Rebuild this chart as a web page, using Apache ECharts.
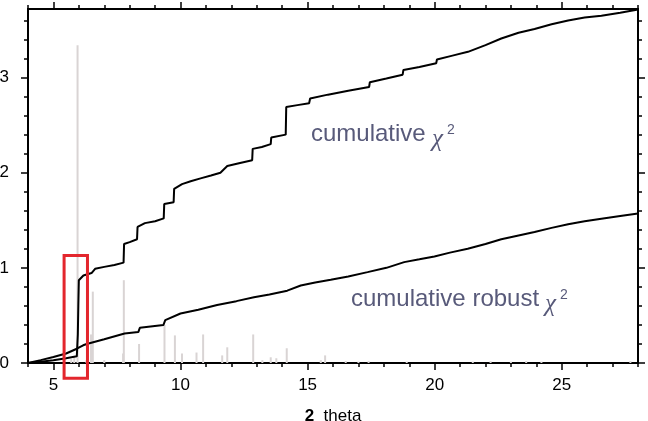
<!DOCTYPE html>
<html>
<head>
<meta charset="utf-8">
<script src="https://cdn.jsdelivr.net/npm/echarts@6/dist/echarts.min.js"></script>
<style>
html, body { margin: 0; padding: 0; background: #fff; }
#echarts { width: 648px; height: 421px; }
</style>
</head>
<body>
<div id="echarts"></div>
<script>
// axis ranges and ticks
const X_MIN = 4, X_MAX = 28;
const Y_MIN = 0, Y_MAX = 3.72;
const xLabels = [5, 10, 15, 20, 25];
const xMinor = [4, 6, 7, 8, 9, 11, 12, 13, 14, 16, 17, 18, 19, 21, 22, 23, 24, 26, 27, 28];
const yLabels = [0, 1, 2, 3];
const yMinor = [0.2, 0.4, 0.6, 0.8, 1.2, 1.4, 1.6, 1.8, 2.2, 2.4, 2.6, 2.8, 3.2, 3.4, 3.6];

// cumulative chi^2 (step-like curve)
const chi2Curve = [
  [4, 0], [4.5, 0.012], [5, 0.03], [5.5, 0.05], [5.92, 0.07], [5.96, 0.3], [5.98, 0.6], [6.0, 0.87],
  [6.18, 0.92], [6.5, 0.945], [6.64, 0.99], [7.0, 1.01], [7.4, 1.03], [7.76, 1.055], [7.78, 1.25],
  [8.0, 1.27], [8.29, 1.3], [8.31, 1.43], [8.6, 1.47], [9.0, 1.49], [9.34, 1.52], [9.36, 1.67],
  [9.73, 1.69], [9.75, 1.83], [10.06, 1.88], [10.4, 1.91], [10.79, 1.94], [11.2, 1.97], [11.57, 2.0],
  [11.84, 2.07], [12.3, 2.1], [12.82, 2.13], [12.84, 2.25], [13.2, 2.27], [13.55, 2.3], [13.57, 2.37],
  [14.14, 2.4], [14.16, 2.69], [14.6, 2.71], [15.06, 2.73], [15.1, 2.78], [15.8, 2.82], [16.6, 2.86],
  [17.42, 2.9], [17.45, 2.95], [18.1, 2.99], [18.74, 3.03], [18.77, 3.08], [19.4, 3.11], [20.06, 3.15],
  [20.09, 3.19], [20.7, 3.23], [21.31, 3.27], [22.0, 3.34], [22.62, 3.41], [23.3, 3.47], [23.93, 3.51],
  [24.6, 3.56], [25.25, 3.6], [25.9, 3.63], [26.56, 3.65], [27.3, 3.68], [28, 3.715]
];

// cumulative robust chi^2
const robustCurve = [
  [4, 0], [4.5, 0.03], [5, 0.063], [5.5, 0.1], [5.92, 0.15], [6.17, 0.186], [6.31, 0.2], [7.0, 0.25],
  [7.8, 0.31], [8.34, 0.325], [8.4, 0.37], [9.33, 0.4], [9.4, 0.45], [10.0, 0.52], [10.7, 0.56],
  [11.44, 0.61], [12.2, 0.65], [12.89, 0.69], [13.5, 0.72], [14.2, 0.76], [14.73, 0.815], [15.3, 0.845],
  [15.91, 0.875], [16.6, 0.91], [17.36, 0.955], [18.1, 1.0], [18.8, 1.06], [19.4, 1.09], [19.99, 1.12],
  [20.6, 1.16], [21.3, 1.2], [22.0, 1.25], [22.62, 1.3], [23.3, 1.34], [23.93, 1.376], [24.6, 1.42],
  [25.25, 1.457], [25.9, 1.49], [26.56, 1.517], [27.3, 1.545], [28, 1.57]
];

// grey diffraction peaks
const peakPos = [5.7, 5.82, 5.95, 6.3, 6.48, 6.55, 7.0, 7.74, 7.77, 8.37, 9.37, 9.78, 10.06, 10.63, 10.89,
  11.64, 11.84, 12.86, 13.22, 13.55, 13.77, 14.18, 15.52, 15.69, 16.5, 17.0, 17.4, 18.9, 21.5, 22.2,
  23.0, 23.6, 24.2, 27.7];
const peakHeight = [0.04, 0.06, 3.34, 0.03, 0.3, 0.75, 0.03, 0.1, 0.87, 0.2, 0.4, 0.29, 0.1, 0.11, 0.3,
  0.08, 0.165, 0.3, 0.03, 0.06, 0.05, 0.155, 0.03, 0.08, 0.02, 0.015, 0.02, 0.015, 0.015, 0.02,
  0.015, 0.02, 0.015, 0.02];

// highlight box: [x0, x1, y0, y1]
const redBox = [5.42, 6.34, -0.16, 1.13];

const chartDom = document.getElementById("echarts");
const myChart = echarts.init(chartDom);

function xAxisOf(pos, ticks, len, withLabels) {
  const axis = {
    type: "value",
    position: pos,
    min: X_MIN,
    max: X_MAX,
    axisLine: { show: true, onZero: false, lineStyle: { color: "#000", width: 2 } },
    axisTick: { show: true, inside: false, length: len, customValues: ticks, lineStyle: { color: "#000", width: 1.5 } },
    axisLabel: { show: false },
    splitLine: { show: false },
  };
  if (withLabels) {
    axis.axisLabel = {
      show: true, customValues: xLabels, margin: 14,
      color: "#000", fontSize: 17, fontFamily: "Liberation Sans",
    };
    axis.name = "{b|2}  theta";
    axis.nameLocation = "middle";
    axis.nameGap = 45;
    axis.nameTextStyle = {
      color: "#000", fontSize: 17, fontFamily: "Liberation Sans",
      rich: { b: { fontSize: 17, fontWeight: "bold", fontFamily: "Liberation Sans" } },
    };
  }
  return axis;
}

function yAxisOf(pos, ticks, len, withLabels) {
  const axis = {
    type: "value",
    position: pos,
    min: Y_MIN,
    max: Y_MAX,
    axisLine: { show: true, onZero: false, lineStyle: { color: "#000", width: 2 } },
    axisTick: { show: true, inside: false, length: len, customValues: ticks, lineStyle: { color: "#000", width: 1.5 } },
    axisLabel: { show: false },
    splitLine: { show: false },
  };
  if (withLabels) {
    axis.axisLabel = {
      show: true, customValues: yLabels, margin: 19,
      color: "#000", fontSize: 17, fontFamily: "Liberation Sans",
    };
  }
  return axis;
}

const labelFill = "#585a7a";

const option = {
  animation: false,
  grid: { left: 28, right: 10, top: 9, bottom: 58, containLabel: false, outerBoundsMode: "none" },
  xAxis: [
    xAxisOf("bottom", xLabels, 7, true),
    xAxisOf("bottom", xMinor, 4, false),
    xAxisOf("top", xLabels, 7, false),
    xAxisOf("top", xMinor, 4, false),
  ],
  yAxis: [
    yAxisOf("left", yLabels, 7, true),
    yAxisOf("left", yMinor, 4, false),
    yAxisOf("right", yLabels, 7, false),
    yAxisOf("right", yMinor, 4, false),
  ],
  series: [
    {
      name: "peaks",
      type: "bar",
      barWidth: 2,
      itemStyle: { color: "#d9d4d4" },
      data: peakPos.map((x, i) => [x, peakHeight[i]]),
      z: 1,
    },
    {
      name: "cumulative chi2",
      type: "line",
      showSymbol: false,
      lineStyle: { color: "#000", width: 2 },
      data: chi2Curve,
      z: 3,
    },
    {
      name: "cumulative robust chi2",
      type: "line",
      showSymbol: false,
      lineStyle: { color: "#000", width: 2 },
      data: robustCurve,
      z: 3,
    },
    {
      name: "box",
      type: "custom",
      clip: false,
      z: 5,
      data: [[redBox[0], redBox[2]]],
      renderItem(params, api) {
        const p0 = api.coord([redBox[0], redBox[3]]);
        const p1 = api.coord([redBox[1], redBox[2]]);
        return {
          type: "rect",
          shape: { x: p0[0], y: p0[1], width: p1[0] - p0[0], height: p1[1] - p0[1] },
          style: { fill: "none", stroke: "#e3262d", lineWidth: 3 },
        };
      },
    },
  ],
  graphic: [
    { type: "text", x: 311, y: 134, style: { text: "cumulative", fill: labelFill, font: "24px 'Liberation Sans'", verticalAlign: "middle" } },
    { type: "text", x: 432, y: 139, style: { text: "χ", fill: labelFill, font: "italic 25px 'Liberation Serif'", verticalAlign: "middle" } },
    { type: "text", x: 447, y: 130, style: { text: "2", fill: labelFill, font: "14px 'Liberation Sans'", verticalAlign: "middle" } },
    { type: "text", x: 351, y: 299, style: { text: "cumulative robust", fill: labelFill, font: "24px 'Liberation Sans'", verticalAlign: "middle" } },
    { type: "text", x: 545, y: 304, style: { text: "χ", fill: labelFill, font: "italic 25px 'Liberation Serif'", verticalAlign: "middle" } },
    { type: "text", x: 560, y: 295, style: { text: "2", fill: labelFill, font: "14px 'Liberation Sans'", verticalAlign: "middle" } },
  ],
};
myChart.setOption(option);
</script>
</body>
</html>
